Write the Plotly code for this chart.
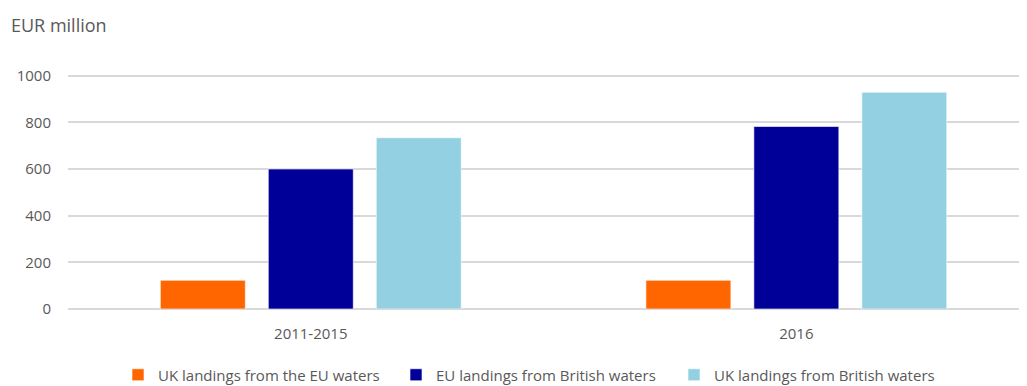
import plotly.graph_objects as go

categories = ["2011-2015", "2016"]
series_names = ["UK landings from the EU waters", "EU landings from British waters", "UK landings from British waters"]
uk_from_eu = [123, 123]
eu_from_british = [600, 782]
uk_from_british = [734, 929]
colors = ["#FF6600", "#000099", "#92D0E2"]
y_ticks = [0, 200, 400, 600, 800, 1000]

font_family = "Open Sans, Noto Sans, sans-serif"
text_color = "#595959"

# the page places the figure 8px from the top-left corner (default body margin)
OFF = 8
W, H = 1027 - OFF, 386 - OFF

fig = go.Figure()
for name, vals, col in zip(series_names, [uk_from_eu, eu_from_british, uk_from_british], colors):
    fig.add_trace(go.Bar(
        x=categories, y=vals, name=name,
        marker=dict(color=col, line=dict(color="rgba(255,255,255,0.6)", width=1)),
    ))

fig.update_layout(
    width=W, height=H,
    barmode="group", bargap=0.333, bargroupgap=0.213,
    plot_bgcolor="white", paper_bgcolor="white",
    margin=dict(l=68 - OFF, r=0, t=64 - OFF, b=77),
    font=dict(family=font_family, size=15, color=text_color),
    showlegend=True,
    legend=dict(orientation="h", xref="container", yref="container",
                x=(118 - OFF) / W, xanchor="left", y=(386 - 375) / H, yanchor="middle",
                font=dict(size=15, color=text_color), itemwidth=30, traceorder="normal",
                entrywidth=233),
    title=dict(text="EUR million", xref="container", yref="container",
               x=(11 - OFF) / W, xanchor="left", y=1 - (26 - OFF) / H, yanchor="middle",
               font=dict(size=18, color=text_color)),
)
fig.update_xaxes(range=[-0.5, 1.475], showgrid=False, showline=False, automargin=False,
                 ticks="outside", ticklen=11, tickcolor="rgba(0,0,0,0)",
                 tickfont=dict(size=15, color=text_color))
fig.update_yaxes(range=[0, 1050], tickvals=y_ticks, showgrid=True, gridcolor="#D9D9D9",
                 gridwidth=1.5, zeroline=True, zerolinecolor="#D9D9D9", zerolinewidth=1.5,
                 showline=False, automargin=False, ticks="outside", ticklen=13,
                 tickcolor="rgba(0,0,0,0)", tickfont=dict(size=15, color=text_color))

fig.write_html("out.html")
